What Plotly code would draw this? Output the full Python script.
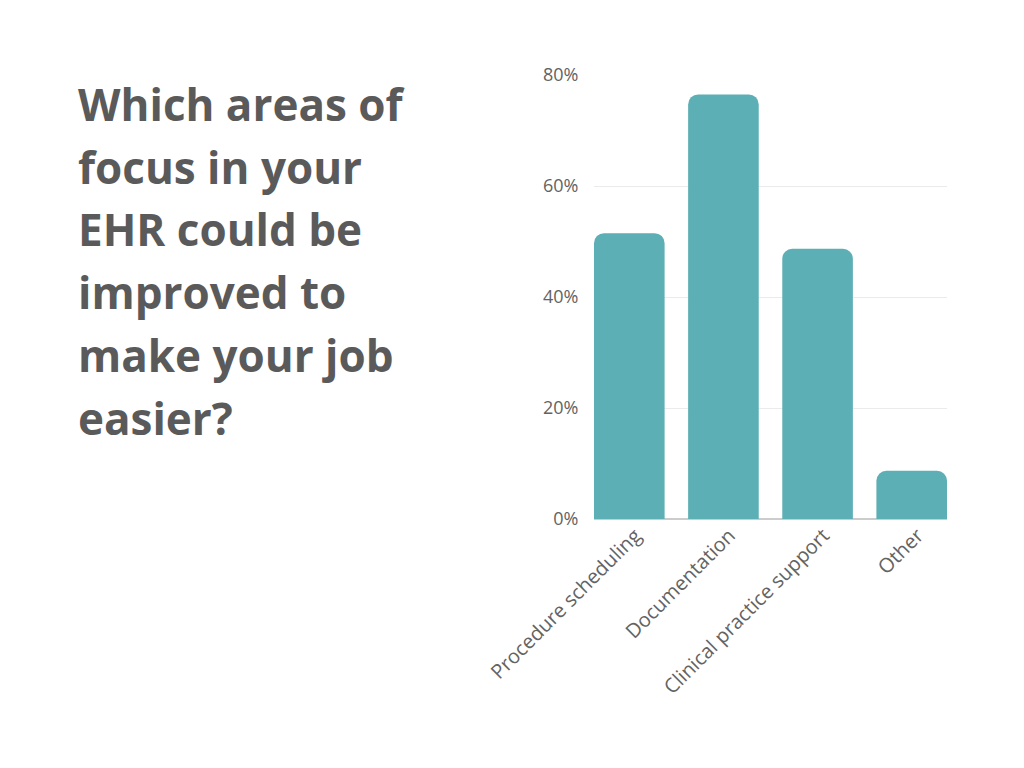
import plotly.graph_objects as go

categories = ["Procedure scheduling", "Documentation", "Clinical practice support", "Other"]
values = [51.5, 76.5, 48.7, 8.7]
tick_values = [0, 20, 40, 60, 80]
tick_labels = ["0%", "20%", "40%", "60%", "80%"]
title_lines = ["Which areas of", "focus in your", "EHR could be", "improved to", "make your job", "easier?"]

BAR = "#5cafb4"
TEXT = "#636363"

L, R, T, B = 586, 85, 67, 257
PW = 1024 - L - R
PH = 768 - T - B

fig = go.Figure(go.Bar(
    x=list(range(len(categories))),
    y=values,
    width=0.75,
    marker=dict(color=BAR, cornerradius=10, line=dict(width=0)),
    hoverinfo="skip",
))

fig.update_layout(
    width=1024, height=768, autosize=False,
    margin=dict(l=L, r=R, t=T, b=B),
    paper_bgcolor="white", plot_bgcolor="white",
    showlegend=False,
    font=dict(family="Open Sans", color=TEXT),
    xaxis=dict(
        range=[-0.375, 3.375],
        tickmode="array",
        tickvals=list(range(len(categories))),
        ticktext=categories,
        tickangle=-45,
        tickfont=dict(size=20, color=TEXT),
        ticklabelshift=6,
        showgrid=False, zeroline=False, showline=False,
        ticks="",
        fixedrange=True,
    ),
    yaxis=dict(
        range=[0, 80],
        tickmode="array",
        tickvals=tick_values,
        ticktext=tick_labels,
        tickfont=dict(size=18, color=TEXT),
        showgrid=True, gridcolor="#ebebeb", gridwidth=1,
        zeroline=True, zerolinecolor="#cccccc", zerolinewidth=1.5,
        showline=False, ticks="outside", ticklen=11, tickcolor="rgba(0,0,0,0)",
        fixedrange=True,
    ),
)

for i, line in enumerate(title_lines):
    fig.add_annotation(
        text=line, xref="paper", yref="paper",
        x=(68 - L) / PW, xanchor="left",
        y=1 + (T - (96 + 62.7 * i)) / PH, yanchor="middle",
        showarrow=False,
        font=dict(family="Open Sans", size=44, color="#5a5a5a", weight="bold"),
    )

fig.write_html("out.html")
